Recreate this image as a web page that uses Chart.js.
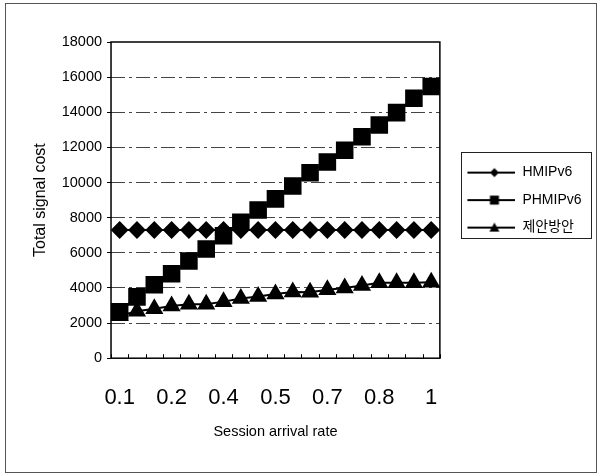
<!DOCTYPE html>
<html>
<head>
<meta charset="utf-8">
<script src="https://cdn.jsdelivr.net/npm/chart.js@4.4.1/dist/chart.umd.min.js"></script>
<style>
  html, body { margin: 0; padding: 0; background: #fff; }
</style>
</head>
<body>
<canvas id="costChart" width="601" height="475"></canvas>
<script>
// x categories: session arrival rate 0.1 .. 1 in 0.05 steps
const rates = ['0.1', '0.15', '0.2', '0.25', '0.3', '0.35', '0.4', '0.45', '0.5', '0.55',
               '0.6', '0.65', '0.7', '0.75', '0.8', '0.85', '0.9', '0.95', '1'];
// labels as printed under the axis, one every 3 categories
const xTickLabels = ['0.1', '0.2', '0.4', '0.5', '0.7', '0.8', '1'];
const yMin = 0, yMax = 18000, yStep = 2000;

const hmipv6 = [7300, 7300, 7300, 7300, 7300, 7300, 7300, 7300, 7300, 7300,
                7300, 7300, 7300, 7300, 7300, 7300, 7300, 7300, 7300];
const phmipv6 = [2640, 3490, 4180, 4810, 5530, 6220, 6970, 7740, 8440, 9070,
                 9800, 10560, 11170, 11840, 12610, 13270, 13980, 14800, 15470];
const proposed = [2420, 2670, 2820, 2970, 3070, 3070, 3220, 3400, 3510, 3660,
                  3770, 3750, 3890, 4000, 4140, 4300, 4300, 4300, 4320];

const FONT = "'Liberation Sans', Arial, 'Noto Sans CJK KR', sans-serif";

// legend symbol: short line with the marker in the middle
function legendSymbol(style) {
  const c = document.createElement('canvas');
  c.width = 62; c.height = 18;
  const g = c.getContext('2d');
  g.strokeStyle = '#000'; g.fillStyle = '#000'; g.lineWidth = 2;
  g.beginPath(); g.moveTo(14, 9); g.lineTo(62, 9); g.stroke();
  g.beginPath();
  if (style === 'rectRot') {
    g.moveTo(41, 4.5); g.lineTo(45.5, 9); g.lineTo(41, 13.5); g.lineTo(36.5, 9);
  } else if (style === 'rect') {
    g.rect(36.5, 4.5, 9, 9);
  } else {
    g.moveTo(41, 4); g.lineTo(46, 13); g.lineTo(36, 13);
  }
  g.closePath(); g.fill();
  return c;
}

// plot border, inward x ticks, outer frame and the legend box
const frames = {
  id: 'frames',
  beforeDatasetsDraw(chart) {
    const { ctx, chartArea: a, scales: { x } } = chart;
    ctx.save();
    ctx.strokeStyle = '#000';
    ctx.lineWidth = 1.5;
    ctx.strokeRect(a.left, a.top, a.right - a.left, a.bottom - a.top);

    ctx.lineWidth = 1;
    const half = (x.getPixelForValue(1) - x.getPixelForValue(0)) / 2;
    ctx.beginPath();
    for (let i = 0; i <= rates.length; i++) {
      const px = Math.round(x.getPixelForValue(i) - half) + 0.5;
      ctx.moveTo(px, a.bottom);
      ctx.lineTo(px, a.bottom - 4);
    }
    ctx.stroke();

    ctx.strokeStyle = '#555';
    ctx.strokeRect(5.5, 3.5, 591, 469);

    const hb = chart.legend.legendHitBoxes;
    if (hb && hb.length) {
      const l = hb[0].left + 8, t = hb[0].top - 14;
      const r = chart.width - 10;
      const b = hb[hb.length - 1].top + hb[hb.length - 1].height + 3;
      ctx.strokeStyle = '#222';
      ctx.strokeRect(Math.round(l) + 0.5, Math.round(t) + 0.5, Math.round(r - l), Math.round(b - t));
    }
    ctx.restore();
  }
};

const symbols = [legendSymbol('rectRot'), legendSymbol('rect'), legendSymbol('triangle')];

const ctx = document.getElementById('costChart').getContext('2d');
new Chart(ctx, {
  type: 'line',
  data: {
    labels: rates,
    datasets: [
      { label: 'HMIPv6', data: hmipv6, borderColor: '#000', backgroundColor: '#000',
        borderWidth: 2, pointStyle: 'rectRot', pointRadius: 7.5, tension: 0 },
      { label: 'PHMIPv6', data: phmipv6, borderColor: '#000', backgroundColor: '#000',
        borderWidth: 2, pointStyle: 'rect', pointRadius: 11, tension: 0 },
      { label: '제안방안', data: proposed, borderColor: '#000', backgroundColor: '#000',
        borderWidth: 2, pointStyle: 'triangle', pointRadius: 8.5, tension: 0 }
    ]
  },
  options: {
    responsive: false,
    animation: false,
    layout: { padding: { left: 31, right: 9.5, top: 42, bottom: 34 } },
    plugins: {
      tooltip: { enabled: false },
      legend: {
        position: 'right',
        fullSize: false,
        maxWidth: 300,
        labels: {
          usePointStyle: true,
          pointStyleWidth: 62,
          padding: 13.5,
          color: '#000',
          font: { family: FONT, size: 14 },
          generateLabels(chart) {
            const items = Chart.defaults.plugins.legend.labels.generateLabels(chart);
            items.forEach((it, i) => { it.pointStyle = symbols[i]; });
            return items;
          }
        }
      }
    },
    scales: {
      x: {
        offset: true,
        grid: { display: false, drawTicks: false },
        border: { display: false },
        ticks: {
          autoSkip: false, maxRotation: 0, padding: 27, color: '#000',
          font: { family: FONT, size: 22 },
          callback: (v, i) => (i % 3 === 0 ? xTickLabels[i / 3] : '')
        },
        title: {
          display: true, text: 'Session arrival rate', color: '#000',
          font: { family: FONT, size: 14.5 }, padding: { top: -15, bottom: 0 }
        }
      },
      y: {
        min: yMin, max: yMax,
        border: { display: false, dash: [14, 4, 3, 4] },
        grid: {
          color: c => (c.tick && (c.tick.value === yMin || c.tick.value === yMax)) ? 'rgba(0,0,0,0)' : '#444',
          tickColor: '#000', tickLength: 4, tickBorderDash: []
        },
        ticks: {
          stepSize: yStep, padding: 5, color: '#000',
          font: { family: FONT, size: 14.5 },
          callback: v => String(v)
        },
        title: {
          display: true, text: 'Total signal cost', color: '#000',
          font: { family: FONT, size: 16 }, padding: { top: 0, bottom: 6.5 }
        }
      }
    }
  },
  plugins: [frames]
});
</script>
</body>
</html>
